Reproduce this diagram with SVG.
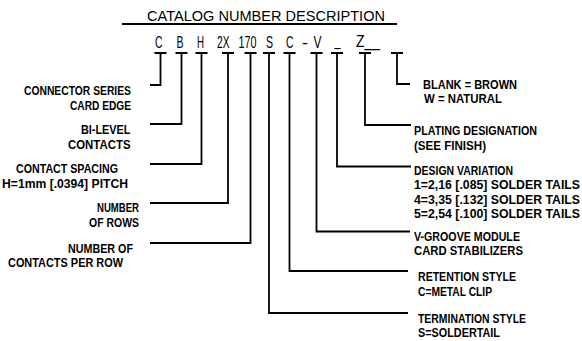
<svg xmlns="http://www.w3.org/2000/svg" width="582" height="341" viewBox="0 0 582 341">
<style>
  .ln { fill: none; stroke: #000; stroke-width: 1.8; stroke-linecap: butt; stroke-linejoin: miter; }
  .title { font-family: "Liberation Sans", Arial, sans-serif; font-size: 15px; fill: #000; }
  .code { font-family: "Liberation Sans", Arial, sans-serif; font-size: 17px; fill: #000; }
  .lbl { font-family: "Liberation Sans", Arial, sans-serif; font-size: 12.5px; font-weight: bold; fill: #000; }
</style>
<rect width="582" height="341" fill="#fff"/>

<g id="title">
  <text class="title" x="147" y="21" textLength="238" lengthAdjust="spacingAndGlyphs">CATALOG NUMBER DESCRIPTION</text>
  <path class="ln" d="M122 24 H397"/>
</g>

<g id="code">
  <text class="code" x="155" y="48" textLength="7.5" lengthAdjust="spacingAndGlyphs">C</text>
  <text class="code" x="176.5" y="48" textLength="7" lengthAdjust="spacingAndGlyphs">B</text>
  <text class="code" x="197" y="48" textLength="7" lengthAdjust="spacingAndGlyphs">H</text>
  <text class="code" x="217" y="48" textLength="12.5" lengthAdjust="spacingAndGlyphs">2X</text>
  <text class="code" x="238.5" y="48" textLength="18" lengthAdjust="spacingAndGlyphs">170</text>
  <text class="code" x="266" y="48" textLength="7" lengthAdjust="spacingAndGlyphs">S</text>
  <text class="code" x="286" y="48" textLength="7.5" lengthAdjust="spacingAndGlyphs">C</text>
  <text class="code" x="302" y="48" textLength="6" lengthAdjust="spacingAndGlyphs">-</text>
  <text class="code" x="313.5" y="48" textLength="8" lengthAdjust="spacingAndGlyphs">V</text>
  <text class="code" x="334.5" y="46" textLength="6" lengthAdjust="spacingAndGlyphs">_</text>
  <text class="code" x="356" y="47" textLength="24" lengthAdjust="spacingAndGlyphs">Z__</text>
</g>

<g id="connectors">
  <path class="ln" d="M154.5 53 H166.5 M160.5 53 V85 H150"/>
  <path class="ln" d="M175.5 53 H187.5 M181.5 53 V124 H150"/>
  <path class="ln" d="M195.5 53 H207.5 M201.5 53 V164 H150"/>
  <path class="ln" d="M222 53 H234 M228 53 V203 H150"/>
  <path class="ln" d="M244.5 53 H256.5 M250.5 53 V243 H150"/>
  <path class="ln" d="M263 53 H275 M269 53 V313 H408"/>
  <path class="ln" d="M283.5 53 H295.5 M289.5 53 V271 H408"/>
  <path class="ln" d="M310.5 53 H322.5 M316.5 53 V231.5 H410"/>
  <path class="ln" d="M331 53 H343 M337 53 V166.5 H411"/>
  <path class="ln" d="M359 53 H371 M365 53 V125 H411"/>
  <path class="ln" d="M391 53 H403 M397 53 V84 H410"/>
</g>

<g id="connector-series">
  <text class="lbl" x="24" y="94.5" textLength="107" lengthAdjust="spacingAndGlyphs">CONNECTOR SERIES</text>
  <text class="lbl" x="70" y="109.5" textLength="61" lengthAdjust="spacingAndGlyphs">CARD EDGE</text>
</g>
<g id="bi-level">
  <text class="lbl" x="81" y="133.5" textLength="49.5" lengthAdjust="spacingAndGlyphs">BI-LEVEL</text>
  <text class="lbl" x="68" y="148.5" textLength="62.5" lengthAdjust="spacingAndGlyphs">CONTACTS</text>
</g>
<g id="contact-spacing">
  <text class="lbl" x="16" y="173" textLength="102" lengthAdjust="spacingAndGlyphs">CONTACT SPACING</text>
  <text class="lbl" x="2" y="188" textLength="126" lengthAdjust="spacingAndGlyphs">H=1mm [.0394] PITCH</text>
</g>
<g id="number-of-rows">
  <text class="lbl" x="97" y="212" textLength="42" lengthAdjust="spacingAndGlyphs">NUMBER</text>
  <text class="lbl" x="89" y="227" textLength="50" lengthAdjust="spacingAndGlyphs">OF ROWS</text>
</g>
<g id="contacts-per-row">
  <text class="lbl" x="68" y="252.5" textLength="65" lengthAdjust="spacingAndGlyphs">NUMBER OF</text>
  <text class="lbl" x="8" y="267" textLength="115" lengthAdjust="spacingAndGlyphs">CONTACTS PER ROW</text>
</g>

<g id="color">
  <text class="lbl" x="423" y="88.5" textLength="94" lengthAdjust="spacingAndGlyphs">BLANK = BROWN</text>
  <text class="lbl" x="424" y="103" textLength="78" lengthAdjust="spacingAndGlyphs">W = NATURAL</text>
</g>
<g id="plating">
  <text class="lbl" x="414" y="134.5" textLength="123" lengthAdjust="spacingAndGlyphs">PLATING DESIGNATION</text>
  <text class="lbl" x="414" y="150" textLength="72" lengthAdjust="spacingAndGlyphs">(SEE FINISH)</text>
</g>
<g id="design-variation">
  <text class="lbl" x="414" y="175" textLength="99" lengthAdjust="spacingAndGlyphs">DESIGN VARIATION</text>
  <text class="lbl" x="414" y="189" textLength="166" lengthAdjust="spacingAndGlyphs">1=2,16 [.085] SOLDER TAILS</text>
  <text class="lbl" x="414" y="203.5" textLength="166" lengthAdjust="spacingAndGlyphs">4=3,35 [.132] SOLDER TAILS</text>
  <text class="lbl" x="414" y="217.5" textLength="166" lengthAdjust="spacingAndGlyphs">5=2,54 [.100] SOLDER TAILS</text>
</g>
<g id="v-groove">
  <text class="lbl" x="414" y="240.5" textLength="106" lengthAdjust="spacingAndGlyphs">V-GROOVE MODULE</text>
  <text class="lbl" x="414" y="255" textLength="109" lengthAdjust="spacingAndGlyphs">CARD STABILIZERS</text>
</g>
<g id="retention">
  <text class="lbl" x="418" y="281" textLength="98" lengthAdjust="spacingAndGlyphs">RETENTION STYLE</text>
  <text class="lbl" x="418" y="296" textLength="74" lengthAdjust="spacingAndGlyphs">C=METAL CLIP</text>
</g>
<g id="termination">
  <text class="lbl" x="418" y="322.5" textLength="108" lengthAdjust="spacingAndGlyphs">TERMINATION STYLE</text>
  <text class="lbl" x="418" y="337" textLength="82" lengthAdjust="spacingAndGlyphs">S=SOLDERTAIL</text>
</g>
</svg>
